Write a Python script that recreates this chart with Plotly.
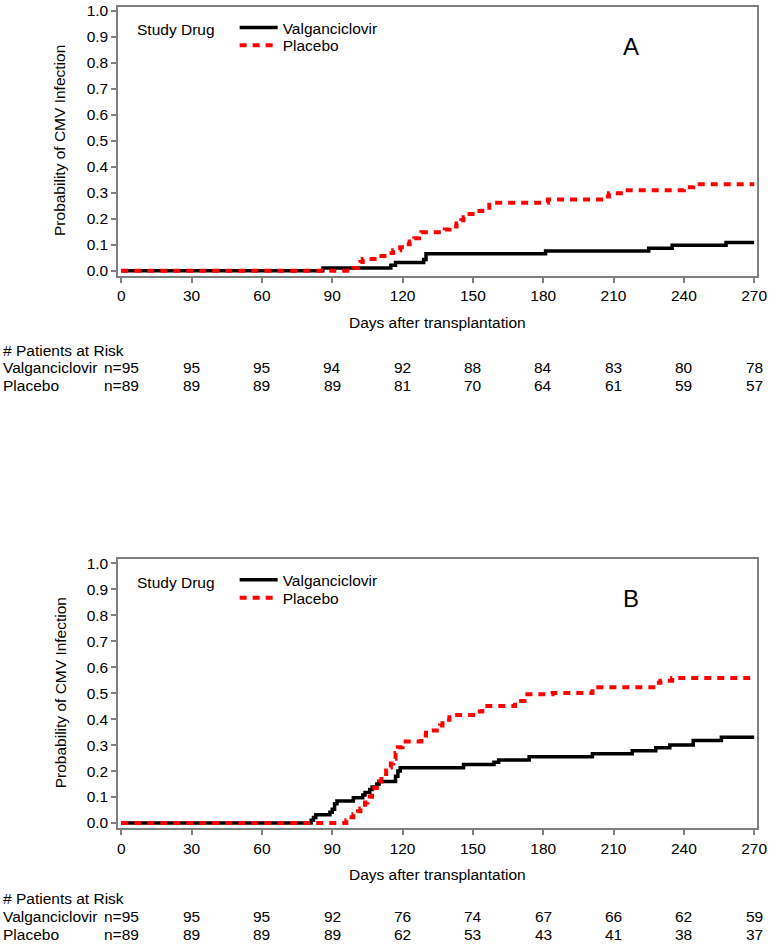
import plotly.graph_objects as go

# ---------------- data ----------------
risk_ticks = [0, 30, 60, 90, 120, 150, 180, 210, 240, 270]

# Panel A
a_valg_days = [0, 86, 115, 117, 129, 130, 181, 225, 235, 258, 270]
a_valg_prob = [0, 0.0105, 0.021, 0.032, 0.043, 0.065, 0.076, 0.087, 0.098, 0.109, 0.109]
a_plac_days = [0, 99, 101, 102, 103, 110, 114, 116, 119, 121, 123, 125, 127, 128, 138, 140,
               143, 145, 146, 147, 151, 154, 157, 159, 182, 206, 208, 214, 240, 244, 270]
a_plac_prob = [0, 0.011, 0.022, 0.034, 0.045, 0.057, 0.068, 0.079, 0.090, 0.102, 0.113, 0.125,
               0.136, 0.148, 0.159, 0.170, 0.182, 0.194, 0.206, 0.218, 0.230, 0.242, 0.254,
               0.262, 0.274, 0.286, 0.298, 0.310, 0.321, 0.333, 0.333]
a_risk_valg = ["n=95", "95", "95", "94", "92", "88", "84", "83", "80", "78"]
a_risk_plac = ["n=89", "89", "89", "89", "81", "70", "64", "61", "59", "57"]

# Panel B
b_valg_days = [0, 81, 82, 83, 89, 90, 91, 92, 99, 103, 104, 106, 107, 109, 110, 117, 118, 119,
               146, 159, 161, 174, 201, 218, 228, 234, 244, 256, 270]
b_valg_prob = [0, 0.0105, 0.021, 0.032, 0.042, 0.053, 0.074, 0.085, 0.0975, 0.108, 0.118, 0.129,
               0.139, 0.150, 0.160, 0.180, 0.200, 0.213, 0.225, 0.234, 0.243, 0.255, 0.267,
               0.278, 0.290, 0.300, 0.318, 0.330, 0.330]
b_plac_days = [0, 96, 97, 99, 101, 102, 104, 105, 106, 107, 108, 109, 110, 111, 112, 113, 114,
               115, 116, 117, 118, 120, 128, 129, 130, 136, 137, 140, 151, 154, 168, 172, 184,
               201, 228, 230, 235, 270]
b_plac_prob = [0, 0.011, 0.022, 0.034, 0.045, 0.056, 0.079, 0.090, 0.101, 0.124, 0.135, 0.146,
               0.160, 0.169, 0.180, 0.202, 0.214, 0.229, 0.247, 0.270, 0.292, 0.314, 0.326,
               0.337, 0.356, 0.375, 0.397, 0.416, 0.429, 0.450, 0.470, 0.496, 0.500, 0.523,
               0.540, 0.548, 0.558, 0.558]
b_risk_valg = ["n=95", "95", "95", "92", "76", "74", "67", "66", "62", "59"]
b_risk_plac = ["n=89", "89", "89", "89", "62", "53", "43", "41", "38", "37"]

# ---------------- layout helpers ----------------
W, H = 777, 946
FONT = "Liberation Sans, Arial, sans-serif"
FS = 15.5
GREY = "#808080"


def py(px):
    return 1 - px / H


def px_x(px):
    return px / W


def tfont(size=FS):
    return dict(size=size, family=FONT, color="black")


fig = go.Figure()

panels = [
    dict(xa="x", ya="y", legs=("legend", "legend2"), dy=0, tdy=0,
         valg=(a_valg_days, a_valg_prob), plac=(a_plac_days, a_plac_prob),
         rv=a_risk_valg, rp=a_risk_plac, letter="A"),
    dict(xa="x2", ya="y2", legs=("legend3", "legend4"), dy=557, tdy=553,
         valg=(b_valg_days, b_valg_prob), plac=(b_plac_days, b_plac_prob),
         rv=b_risk_valg, rp=b_risk_plac, letter="B"),
]

annotations = []
legends = {}
for p in panels:
    fig.add_trace(go.Scatter(x=p["valg"][0], y=p["valg"][1], mode="lines", line_shape="hv",
                             name="Valganciclovir", xaxis=p["xa"], yaxis=p["ya"], legend=p["legs"][0],
                             showlegend=True, line=dict(color="black", width=3.5)))
    fig.add_trace(go.Scatter(x=p["plac"][0], y=p["plac"][1], mode="lines", line_shape="hv",
                             name="Placebo", xaxis=p["xa"], yaxis=p["ya"], legend=p["legs"][1],
                             showlegend=True, line=dict(color="#ff0000", width=4, dash="7px,6px")))
    dy = p["dy"]
    tdy = p["tdy"]
    for leg, yc in zip(p["legs"], (24, 42)):
        legends[leg] = dict(x=px_x(237), y=py(yc - 18 + dy), xanchor="left", yanchor="top",
                            bgcolor="rgba(0,0,0,0)", borderwidth=0, font=tfont(), itemwidth=38,
                            visible=True)
    annotations.append(dict(text="Study Drug", x=px_x(136), y=py(25 + dy), xref="paper", yref="paper",
                            showarrow=False, xanchor="left", yanchor="middle", font=tfont()))
    # axis titles
    annotations.append(dict(text="Probability of CMV Infection", textangle=-90, x=px_x(60), y=py(137 + dy),
                            xref="paper", yref="paper", showarrow=False, xanchor="center", yanchor="middle",
                            font=tfont()))
    annotations.append(dict(text="Days after transplantation", x=px_x(443), y=py(320 + dy),
                            xref="paper", yref="paper", showarrow=False, xanchor="center", yanchor="middle",
                            font=tfont()))
    # panel letter
    annotations.append(dict(text=p["letter"], x=px_x(639), y=py(42 + dy), xref="paper", yref="paper",
                            showarrow=False, xanchor="center", yanchor="middle", font=tfont(24)))
    # risk table
    annotations.append(dict(text="# Patients at Risk", x=0, y=py(348 + tdy), xref="paper", yref="paper",
                            showarrow=False, xanchor="left", yanchor="middle", font=tfont()))
    annotations.append(dict(text="Valganciclovir", x=0, y=py(366 + tdy), xref="paper", yref="paper",
                            showarrow=False, xanchor="left", yanchor="middle", font=tfont()))
    annotations.append(dict(text="Placebo", x=0, y=py(384 + tdy), xref="paper", yref="paper",
                            showarrow=False, xanchor="left", yanchor="middle", font=tfont()))
    for t, v in zip(risk_ticks, p["rv"]):
        annotations.append(dict(text=v, x=t, y=py(366 + tdy), xref=p["xa"], yref="paper",
                                showarrow=False, xanchor="center", yanchor="middle", font=tfont()))
    for t, v in zip(risk_ticks, p["rp"]):
        annotations.append(dict(text=v, x=t, y=py(384 + tdy), xref=p["xa"], yref="paper",
                                showarrow=False, xanchor="center", yanchor="middle", font=tfont()))

x_dom = [px_x(119), px_x(767)]
x_range = [-1.26, 271.26]
y_range = [-0.019, 1.015]

common_x = dict(range=x_range, domain=x_dom, tickmode="array", tickvals=risk_ticks,
                showline=True, mirror=True, linecolor=GREY, linewidth=2,
                ticks="outside", ticklen=5, tickcolor=GREY, tickwidth=1.5,
                ticklabeloverflow="allow",
                showgrid=False, zeroline=False, tickfont=tfont())
common_y = dict(range=y_range, tickmode="array", tickvals=[i / 10 for i in range(11)],
                tickformat=".1f", showline=True, mirror=True, linecolor=GREY, linewidth=2,
                ticks="outside", ticklen=5, tickcolor=GREY, tickwidth=1.5,
                ticklabeloverflow="allow",
                showgrid=False, zeroline=False, tickfont=tfont())

fig.update_layout(
    width=W, height=H,
    margin=dict(l=0, r=0, t=0, b=0),
    paper_bgcolor="white", plot_bgcolor="white",
    font=dict(family=FONT, size=FS, color="black"),
    showlegend=True,
    xaxis=dict(common_x, anchor="y"),
    yaxis=dict(common_y, anchor="x", domain=[py(273), py(2)]),
    xaxis2=dict(common_x, anchor="y2"),
    yaxis2=dict(common_y, anchor="x2", domain=[py(830), py(559)]),
    annotations=annotations,
    **legends,
)

fig.write_html("out.html", config={"displayModeBar": False},
               post_script="document.body.style.margin='0';document.body.style.overflow='hidden';")
